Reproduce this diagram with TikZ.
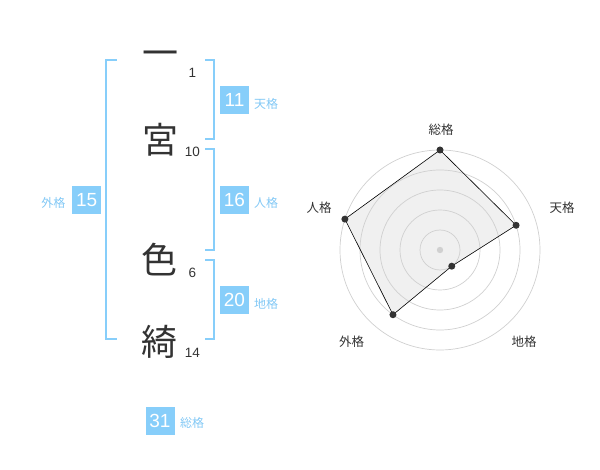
\documentclass[tikz,border=0pt]{standalone}
\usepackage{fontspec}
\setmainfont{Liberation Sans}
\newfontfamily\jpfont{Noto Sans CJK JP}
\definecolor{kakublue}{RGB}{135,206,250}
\definecolor{kakutext}{RGB}{130,200,245}
\definecolor{inkgray}{RGB}{51,51,51}
\definecolor{ringgray}{RGB}{208,208,208}
\definecolor{areagray}{RGB}{240,240,240}
\tikzset{
	kanji/.style={font=\jpfont\fontsize{36}{36}\selectfont, text=inkgray, inner sep=0pt},
	strokes/.style={font=\fontsize{13.5}{14}\selectfont, text=inkgray, inner sep=0pt},
	valuebox/.style={fill=kakublue, text=white, font=\fontsize{19}{19}\selectfont,
		minimum width=29pt, minimum height=28pt, inner sep=0pt},
	kakulabel/.style={font=\jpfont\fontsize{12}{12}\selectfont, text=kakutext, inner sep=0pt},
	bracket/.style={draw=kakublue, line width=2pt},
	ring/.style={draw=ringgray, line width=0.7pt},
	radarlabel/.style={font=\jpfont\fontsize{12.5}{12.5}\selectfont, text=inkgray, inner sep=0pt},
	dot/.style={circle, fill=inkgray, inner sep=0pt, minimum size=7pt}
}
\begin{document}
\begin{tikzpicture}[x=1pt,y=-1pt]
			\useasboundingbox (0,0) rectangle (600,470);
			% name
			\node[kanji]   (k1) at (160,58.3)  {一};
			\node[kanji]   (k2) at (160,139.5) {宮};
			\node[kanji]   (k3) at (159.5,260) {色};
			\node[kanji]   (k4) at (159.5,341.7) {綺};
			\node[strokes] (s1) at (192.5,73)  {1};
			\node[strokes] (s2) at (192.5,152) {10};
			\node[strokes] (s3) at (192.5,272.6) {6};
			\node[strokes] (s4) at (192.5,352.5) {14};
			% brackets
			\draw[bracket] (116.7,60) -- (105.7,60) -- (105.7,339.3) -- (116.7,339.3);
			\draw[bracket] (205,60) -- (214.3,60) -- (214.3,139.3) -- (205,139.3);
			\draw[bracket] (205,149.3) -- (214.3,149.3) -- (214.3,250) -- (205,250);
			\draw[bracket] (205,260) -- (214.3,260) -- (214.3,339.3) -- (205,339.3);
			% values
			\node[valuebox]  (ten)  at (234.5,100) {11};
			\node[kakulabel] (tenl) at (266,104)   {天格};
			\node[valuebox]  (jin)  at (234.5,200) {16};
			\node[kakulabel] (jinl) at (266,203)   {人格};
			\node[valuebox]  (chi)  at (234.5,300) {20};
			\node[kakulabel] (chil) at (266,304)   {地格};
			\node[valuebox]  (gai)  at (86.7,200)  {15};
			\node[kakulabel] (gail) at (53.3,203)  {外格};
			\node[valuebox]  (sou)  at (160,421)   {31};
			\node[kakulabel] (soul) at (192,422.7) {総格};
			% radar
			\begin{scope}[shift={(440,250)}]
				\coordinate (rsou) at (-90:100);
				\coordinate (rten) at (-18:80);
				\coordinate (rchi) at (54:20);
				\coordinate (rgai) at (126:80);
				\coordinate (rjin) at (198:100);
				\fill[areagray] (rsou) -- (rten) -- (rchi) -- (rgai) -- (rjin) -- cycle;
				\draw[ring] (0,0) circle (20);
				\draw[ring] (0,0) circle (40);
				\draw[ring] (0,0) circle (60);
				\draw[ring] (0,0) circle (80);
				\draw[ring] (0,0) circle (100);
				\fill[ringgray] (0,0) circle (3.2);
				\draw[black, line width=0.6pt] (rsou) -- (rten) -- (rchi) -- (rgai) -- (rjin) -- cycle;
				\node[dot] at (rsou) {};
				\node[dot] at (rten) {};
				\node[dot] at (rchi) {};
				\node[dot] at (rgai) {};
				\node[dot] at (rjin) {};
			\end{scope}
			\node[radarlabel] (lsou) at (441,130)   {総格};
			\node[radarlabel] (lten) at (562,208)   {天格};
			\node[radarlabel] (lchi) at (524,342)   {地格};
			\node[radarlabel] (lgai) at (351.7,342) {外格};
			\node[radarlabel] (ljin) at (319,208)   {人格};
		\end{tikzpicture}
\end{document}
